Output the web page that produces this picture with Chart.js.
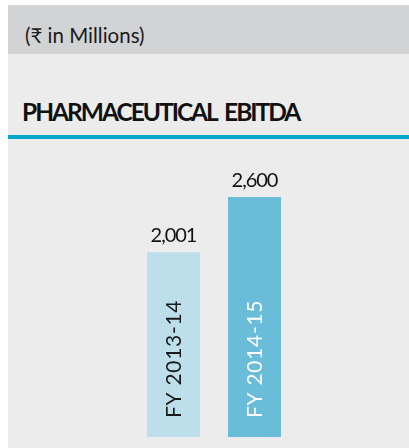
<!DOCTYPE html>
<html>
<head>
<meta charset="utf-8">
<script src="https://cdn.jsdelivr.net/npm/chart.js@4.4.0/dist/chart.umd.min.js"></script>
<style>
    html, body { margin: 0; padding: 0; background: #fff; }
    body { width: 409px; height: 448px; position: relative; overflow: hidden; font-family: Lato, "Open Sans", sans-serif; }
    .header { position: absolute; left: 8px; top: 5px; width: 401px; height: 49px; background: #d2d3d5; }
    .header span { position: absolute; left: 17px; top: 18px; font-size: 20.5px; line-height: normal; color: #1a1a1a; white-space: nowrap; }
    .body { position: absolute; left: 8px; top: 54px; width: 401px; height: 394px; background: #ebeceb; }
    .title { position: absolute; left: 14px; top: 43px; font-size: 24.5px; font-weight: bold; color: #111; letter-spacing: -2px; word-spacing: 4px; white-space: nowrap; }
    .rule { position: absolute; left: 0; top: 81px; width: 401px; height: 4px; background: #00a8c9; }
    .chartBox { position: absolute; left: 8px; top: 150px; width: 401px; height: 298px; }
</style>
</head>
<body>
<div class="header"><span>(₹ in Millions)</span></div>
<div class="body">
    <div class="title">PHARMACEUTICAL EBITDA</div>
    <div class="rule"></div>
</div>
<div class="chartBox"><canvas id="ebitda"></canvas></div>
<script>
// 年度ラベルと値
const categories = ["FY 2013-14", "FY 2014-15"];
const ebitdaValues = [2001, 2600];
const valueLabels = ["2,001", "2,600"];
const barColors = ["#bcdfeb", "#69bdd9"];
const innerTextColors = ["#1a1a1a", "#ffffff"];

// 値ラベルとバー内の年度ラベルを描くプラグイン
const barLabelPlugin = {
    id: 'barLabels',
    afterDatasetsDraw(chart) {
        const ctx = chart.ctx;
        const meta = chart.getDatasetMeta(0);
        const base = chart.scales.y.getPixelForValue(0);
        ctx.save();
        meta.data.forEach((bar, i) => {
            // 値ラベル
            ctx.save();
            ctx.font = '20px Lato';
            ctx.letterSpacing = '-1px';
            ctx.fillStyle = '#111';
            ctx.textAlign = 'center';
            ctx.textBaseline = 'alphabetic';
            ctx.fillText(valueLabels[i], bar.x, bar.y - 10);
            ctx.restore();

            // 回転した年度ラベル
            ctx.save();
            ctx.translate(bar.x + 7, base - 19);
            ctx.rotate(-Math.PI / 2);
            ctx.font = '21px Lato';
            ctx.letterSpacing = '0.7px';
            ctx.fillStyle = innerTextColors[i];
            ctx.textAlign = 'left';
            ctx.fillText(categories[i], 0, 0);
            ctx.restore();
        });
        ctx.restore();
    }
};

new Chart(document.getElementById('ebitda'), {
    type: 'bar',
    data: {
        labels: categories,
        datasets: [{
            data: ebitdaValues,
            backgroundColor: barColors,
            borderWidth: 0,
            barPercentage: 0.654,
            categoryPercentage: 1
        }]
    },
    options: {
        responsive: true,
        maintainAspectRatio: false,
        animation: false,
        layout: { padding: { left: 125, right: 114, top: 10, bottom: 11 } },
        plugins: { legend: { display: false }, tooltip: { enabled: false } },
        scales: {
            x: { display: false },
            y: { display: false, min: 0, max: 3000 }
        }
    },
    plugins: [barLabelPlugin]
});
</script>
</body>
</html>
